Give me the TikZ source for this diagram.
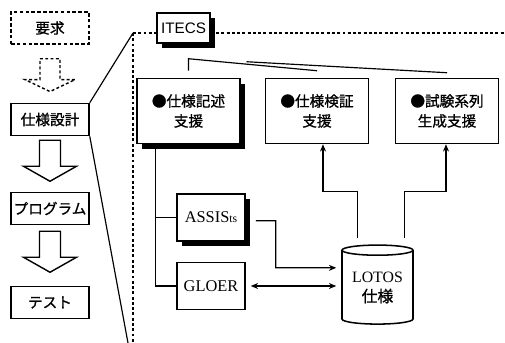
\documentclass[tikz,border=0pt]{standalone}
\usepackage{fontspec}
\setmainfont{Liberation Serif}
\newfontfamily\jpfont[FakeBold=1]{Noto Sans CJK JP}
\newfontfamily\logofont{Liberation Sans}
\usetikzlibrary{arrows.meta,positioning,shapes.geometric,shadows,calc}

\begin{document}
\begin{tikzpicture}[
  x=0.03cm, y=-0.03cm,
  box/.style={draw, line width=1.3pt, fill=white, align=center, inner sep=2pt, font=\jpfont\fontsize{12.5}{17}\selectfont},
  phase/.style={box, minimum width=2.34cm, minimum height=0.96cm},
  func/.style={box, minimum width=3.09cm, minimum height=1.95cm},
  tool/.style={box, minimum width=2.04cm, minimum height=1.41cm, font=\fontsize{14}{16}\selectfont},
  shade/.style={drop shadow={fill=black, opacity=1, shadow xshift=0.16cm, shadow yshift=-0.16cm}},
  store/.style={draw, line width=1.3pt, cylinder, shape border rotate=90, aspect=0.2, minimum width=2.13cm, minimum height=2.37cm, inner sep=0pt, align=center, font=\fontsize{13.5}{17}\selectfont},
  link/.style={line width=1pt},
  arrow/.style={link, -{Stealth[length=2.2mm, width=1.8mm]}},
  dblarrow/.style={link, {Stealth[length=2.2mm, width=1.8mm]}-{Stealth[length=2.2mm, width=1.8mm]}},
  frame/.style={line width=1.2pt, dash pattern=on 2.5pt off 2pt},
  blockarrow/.pic={\draw[line width=1.2pt] (-10.5,0) -- (10.5,0) -- (10.5,26) -- (26.5,26) -- (0,41) -- (-26.5,26) -- (-10.5,26) -- cycle;}
]
\useasboundingbox (0,0) rectangle (505,343);

% development phases
\node[phase, dashed, dash pattern=on 3pt off 2pt] (req) at (50,28) {要求};
\node[phase] (design) at (50,119.5) {仕様設計};
\node[phase] (program) at (50,208.5) {プログラム};
\node[phase] (test) at (50,302.5) {テスト};
\pic[dashed, dash pattern=on 2.5pt off 2pt, xscale=0.95, yscale=0.8] at ([yshift=-0.42cm]req.south) {blockarrow};
\pic at ([yshift=-0.12cm]design.south) {blockarrow};
\pic at ([yshift=-0.18cm]program.south) {blockarrow};

% ITECS frame
\coordinate (tl) at (133,33);
\coordinate (tr) at (505,33);
\coordinate (bl) at (133,343);
\coordinate (bb) at (128,343);
\node[box, shade, minimum width=1.59cm, minimum height=0.9cm, font=\logofont\fontsize{13}{15}\selectfont] (itecs) at (183.5,28) {ITECS};
\draw[frame] (tl) -- (tl -| itecs.west);
\draw[frame] (tl -| itecs.east) -- (tr);
\draw[frame] (tl) -- (bl);
\draw[link] (design.north east) -- (tl);
\draw[link] (design.south east) -- (bb);

% support functions
\node[func, shade] (desc) at (188.5,111) {●仕様記述\\支援};
\node[func] (verify) at (317,111) {●仕様検証\\支援};
\node[func] (testgen) at (447,111) {●試験系列\\生成支援};
\draw[link] ($(desc.north)+(0,-7)$) -- ($(desc.north)+(0,-19)$) -- ($(verify.north)+(0,-7)$);
\draw[link] ($(desc.north)+(58,-16)$) -- ($(testgen.north)+(0,-5)$);

% tools and specification
\node[tool, shade] (assis) at (211,217.5) {ASSIS{\fontsize{10}{10}\selectfont ts}};
\node[tool] (gloer) at (211,286) {GLOER};
\node[store] (lotos) at (377.5,287.5) {LOTOS\\{\jpfont 仕様}};
\coordinate (trunk) at ([xshift=0.57cm]desc.south west);
\draw[link] (trunk) |- (gloer.west);
\draw[link] (assis.west) -- (assis.west -| trunk);
\draw[arrow] ([xshift=0.3cm,yshift=-0.1cm]assis.east) -| ++(20,47) -- ([xshift=-0.15cm,yshift=0.59cm]lotos.west);
\draw[dblarrow] ([xshift=0.15cm]gloer.east) -- ([xshift=-0.15cm]gloer.east -| lotos.west);
\draw[arrow] ([xshift=-0.6cm,yshift=0.2cm]lotos.north) -- ++(0,-46) -| ([xshift=0.18cm]verify.south);
\draw[arrow] ([xshift=0.8cm,yshift=0.2cm]lotos.north) -- ++(0,-46) -| ([xshift=-0.03cm]testgen.south);
\end{tikzpicture}
\end{document}
